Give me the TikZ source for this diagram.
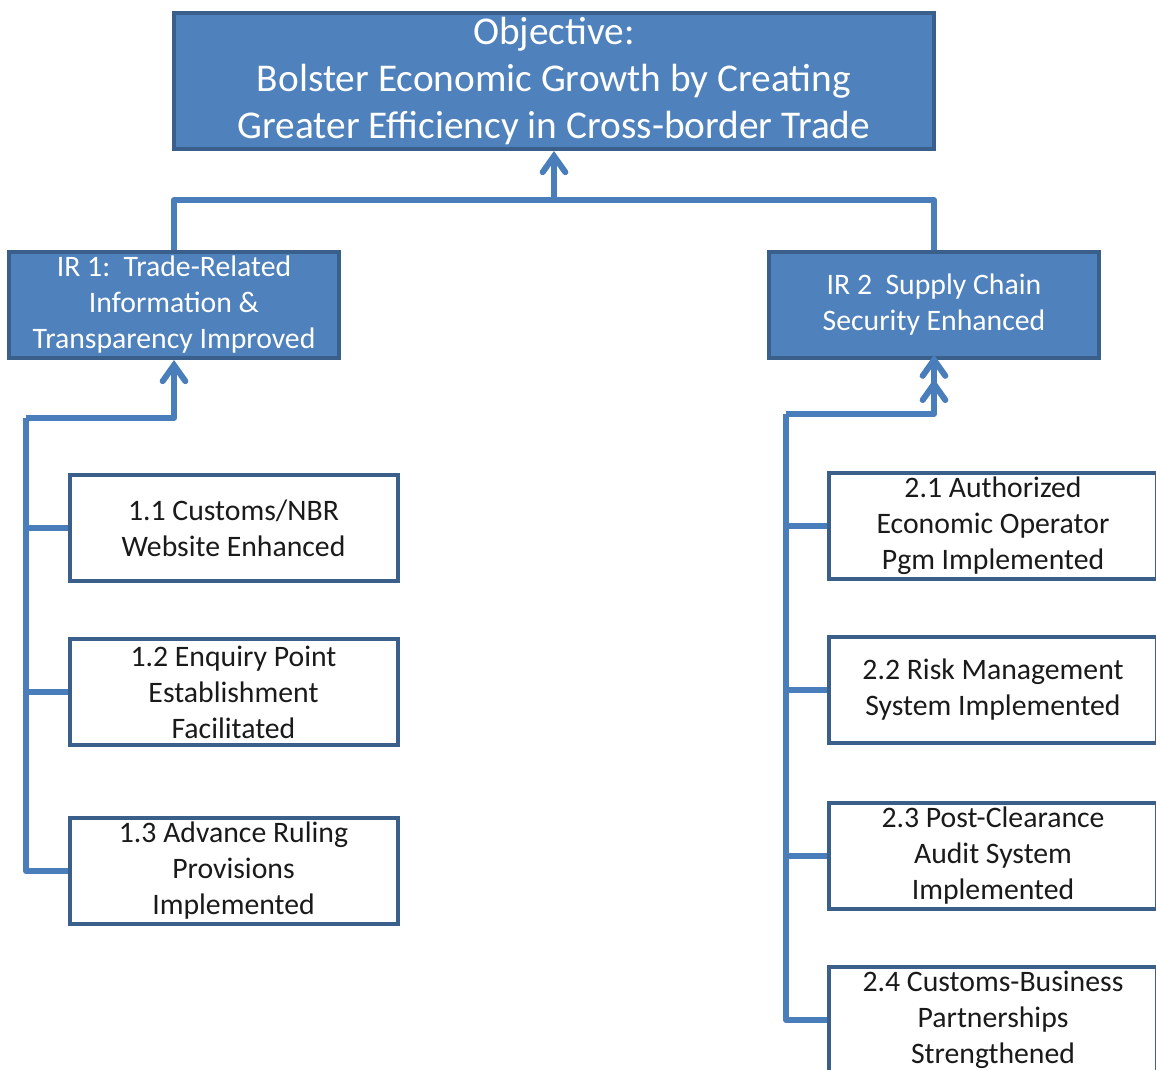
\documentclass[tikz,border=0pt]{standalone}
\usepackage{fontspec}
\setmainfont{Carlito}
\usepackage{tikz}
\usetikzlibrary{arrows.meta,positioning}
\definecolor{boxfill} {HTML}{4F81BD}
\definecolor{boxedge} {HTML}{3A5F8B}
\definecolor{linkblue}{HTML}{4A7EBB}
\definecolor{ink}     {HTML}{1A1A1A}
\tikzset{
  goalbox/.style  ={draw=boxedge, fill=boxfill, line width=3pt,
                    minimum width=570pt, minimum height=102pt,
                    align=center, text=white, inner sep=0pt,
                    font=\fontsize{29.5}{35.3}\selectfont},
  irbox/.style    ={draw=boxedge, fill=boxfill, line width=3pt,
                    minimum width=247.5pt, minimum height=79.5pt,
                    align=center, text=white, inner sep=0pt,
                    font=\fontsize{22.3}{27}\selectfont},
  outbox/.style   ={draw=boxedge, fill=white, line width=3pt,
                    minimum width=246pt, minimum height=79pt,
                    align=center, text=ink, inner sep=0pt,
                    font=\fontsize{22.3}{27}\selectfont},
  link/.style     ={draw=linkblue, line width=4.5pt, line join=round},
  uparr/.style    ={link, -{Straight Barb[length=12pt,width=17pt,line cap=round]}},
  dblarr/.style   ={link, -{Straight Barb[length=12pt,width=17pt,line cap=round]
                           Straight Barb[length=12pt,width=17pt,line cap=round,sep=-4pt]}},
}

\begin{document}
\begin{tikzpicture}[x=0.75pt,y=-0.75pt]
    \clip (0,0) rectangle (1156,1070);

    % Objective and the two results
    \node[goalbox] (goal) at (554,81)
      {Objective:\\Bolster Economic Growth by Creating\\Greater Efficiency in Cross-border Trade};
    \node[irbox] (ir1) at (174,305)
      {IR 1:\ \ Trade-Related\\Information \&\\Transparency Improved};
    \node[irbox] (ir2) at (934,305)
      {IR 2\ \ Supply Chain\\Security Enhanced};

    \coordinate (top) at (554,200);
    \draw[uparr] (top) -- (goal.south);
    \draw[link] (ir1.north) |- (top) -| (ir2.north);

    % IR 1 sub-results
    \node[outbox] (out11) at (233.5,528) {1.1 Customs/NBR\\Website Enhanced};
    \node[outbox] (out12) at (233.5,692) {1.2 Enquiry Point\\Establishment\\Facilitated};
    \node[outbox] (out13) at (233.5,871) {1.3 Advance Ruling\\Provisions\\Implemented};

    \coordinate (lroot) at (26,418);
    \draw[uparr] (lroot) -| (ir1.south);
    \draw[link] (lroot) |- (out13.west);
    \draw[link] (out11.west -| lroot) -- (out11.west);
    \draw[link] (out12.west -| lroot) -- (out12.west);

    % IR 2 sub-results
    \node[outbox] (out21) at (993,526) {2.1 Authorized\\Economic Operator\\Pgm Implemented};
    \node[outbox] (out22) at (993,690) {2.2 Risk Management\\System Implemented};
    \node[outbox] (out23) at (993,856) {2.3 Post-Clearance\\Audit System\\Implemented};
    \node[outbox] (out24) at (993,1020) {2.4 Customs-Business\\Partnerships\\Strengthened};

    \coordinate (rroot) at (786,414);
    \draw[dblarr] (rroot) -| (ir2.south);
    \draw[link] (rroot) |- (out24.west);
    \foreach \n in {out21,out22,out23}
      \draw[link] (\n.west -| rroot) -- (\n.west);
\end{tikzpicture}
\end{document}
